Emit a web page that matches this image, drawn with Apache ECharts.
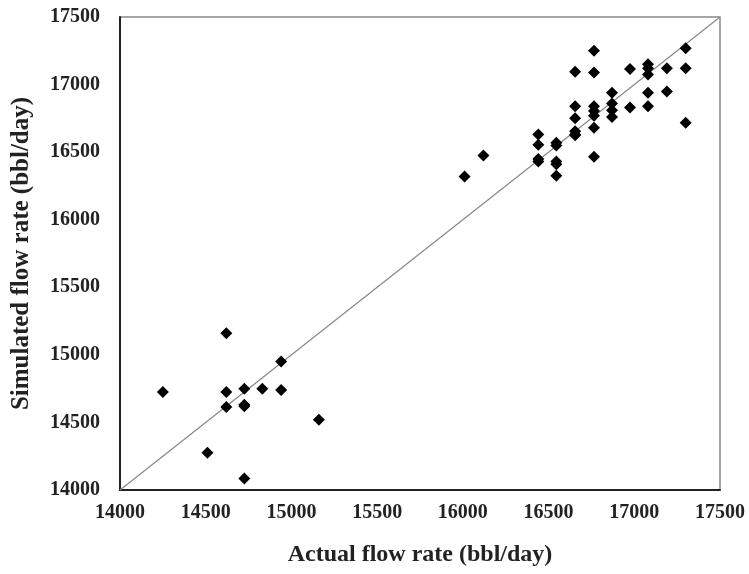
<!DOCTYPE html>
<html>
<head>
<meta charset="utf-8">
<script src="https://cdn.jsdelivr.net/npm/echarts@6/dist/echarts.min.js"></script>
<style>
  html, body { margin: 0; padding: 0; background: #fff; }
  #chart { width: 749px; height: 574px; }
</style>
</head>
<body>
<div id="chart"></div>
<script>
// Actual vs simulated flow rate (bbl/day)
const actualFlow = [
  14250, 14510, 14620, 14620, 14620, 14725, 14725, 14725, 14725, 14830,
  14940, 14940, 15160,
  16010, 16120,
  16440, 16440, 16440, 16440,
  16545, 16545, 16545, 16545, 16545,
  16655, 16655, 16655, 16655, 16655, 16655,
  16765, 16765, 16765, 16765, 16765, 16765, 16765,
  16870, 16870, 16870, 16870,
  16975, 16975,
  17080, 17080, 17080, 17080, 17080,
  17190, 17190,
  17300, 17300, 17300
];
const simulatedFlow = [
  14725, 14275, 15160, 14725, 14615, 14750, 14630, 14620, 14085, 14750,
  14950, 14740, 14520,
  16320, 16475,
  16630, 16555, 16450, 16430,
  16570, 16550, 16430, 16410, 16325,
  17095, 16840, 16750, 16655, 16630, 16625,
  17250, 17090, 16840, 16805, 16770, 16680, 16465,
  16940, 16860, 16810, 16760,
  17115, 16830,
  17150, 17120, 17075, 16940, 16840,
  17120, 16948,
  17268, 17120, 16718
];
// 1:1 reference line
const identityLine = [14000, 17500];

const axisTicks = { min: 14000, max: 17500, interval: 500 };

const points = actualFlow.map((x, i) => [x, simulatedFlow[i]]);
const diagonal = identityLine.map(v => [v, v]);

const labelFont = {
  fontFamily: '"Liberation Serif", "Times New Roman", serif',
  fontWeight: 'bold',
  color: '#222'
};
const plainNumber = v => String(v);

const chart = echarts.init(document.getElementById('chart'), null, { renderer: 'canvas' });
chart.setOption({
  animation: false,
  backgroundColor: '#fff',
  grid: { left: 120, right: 29, top: 17, bottom: 84, show: true, borderColor: '#888', borderWidth: 1.5 },
  xAxis: {
    type: 'value',
    min: axisTicks.min, max: axisTicks.max, interval: axisTicks.interval,
    name: 'Actual flow rate (bbl/day)',
    nameLocation: 'middle',
    nameGap: 53,
    nameTextStyle: Object.assign({ fontSize: 24 }, labelFont),
    axisLine: { show: true, lineStyle: { color: '#222', width: 2 } },
    axisTick: { show: false },
    splitLine: { show: false },
    axisLabel: Object.assign({ fontSize: 20, margin: 13, formatter: plainNumber }, labelFont)
  },
  yAxis: {
    type: 'value',
    min: axisTicks.min, max: axisTicks.max, interval: axisTicks.interval,
    name: 'Simulated flow rate (bbl/day)',
    nameLocation: 'middle',
    nameGap: 86,
    nameTextStyle: Object.assign({ fontSize: 25 }, labelFont),
    axisLine: { show: true, lineStyle: { color: '#222', width: 2 } },
    axisTick: { show: false },
    splitLine: { show: false },
    axisLabel: Object.assign({ fontSize: 20, margin: 20, formatter: plainNumber }, labelFont)
  },
  series: [
    {
      type: 'line',
      data: diagonal,
      symbol: 'none',
      lineStyle: { color: '#888', width: 1.2 },
      silent: true,
      z: 1
    },
    {
      type: 'scatter',
      data: points,
      symbol: 'diamond',
      symbolSize: 12,
      itemStyle: { color: '#000', opacity: 1 },
      z: 2
    }
  ]
});
</script>
</body>
</html>
